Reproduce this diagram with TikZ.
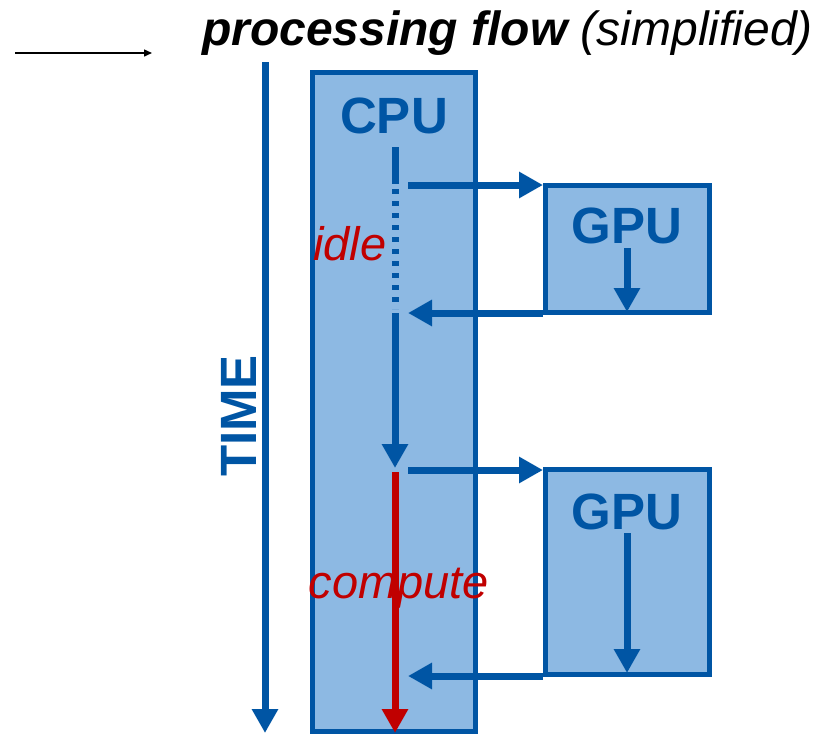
\documentclass[tikz,border=0pt]{standalone}
\usepackage{fontspec}
\setmainfont{Liberation Sans}
\usepackage{xcolor}
\usepackage{tikz}
\usetikzlibrary{arrows.meta}
\definecolor{flowblue}{HTML}{0055A4}
\definecolor{boxfill}{HTML}{8DB9E3}
\definecolor{flowred}{HTML}{C00000}

\begin{document}
\begin{tikzpicture}[
  x=1pt, y=-1pt,
  unitbox/.style={rectangle, draw=flowblue, fill=boxfill, line width=5pt, inner sep=0pt},
  unitlabel/.style={text=flowblue, font=\fontsize{51}{60}\selectfont\bfseries, inner sep=0pt, anchor=base},
  statelabel/.style={text=flowred, font=\fontsize{47}{56}\selectfont\itshape, inner sep=0pt},
  arr/.style={-{Triangle[length=24pt,width=25pt]}, line width=7pt, draw=flowblue},
  seg/.style={line width=7pt, draw=flowblue}
]
  \useasboundingbox (0,0) rectangle (815,734);

  \node[unitbox, minimum width=163pt, minimum height=659pt] (cpu)  at (394,402)   {};
  \node[unitbox, minimum width=164pt, minimum height=127pt] (gpu1) at (627.5,249) {};
  \node[unitbox, minimum width=164pt, minimum height=205pt] (gpu2) at (627.5,572) {};

  \node[unitlabel] (cpulbl)  at (394,133) {CPU};
  \node[unitlabel] (gpulbl1) at (627,243) {GPU};
  \node[unitlabel] (gpulbl2) at (627,529) {GPU};

  \node[anchor=base west, font=\fontsize{48}{56}\selectfont\itshape, inner sep=0pt] (title) at (202,45)
    {{\bfseries processing flow} (simplified)};
  \node[unitlabel, rotate=90] (time) at (256,416) {TIME};

  % time axis and legend arrow
  \coordinate (h0) at (15,53);
  \coordinate (h1) at (152,53);
  \coordinate (t0) at (265,62);
  \coordinate (t1) at (265,733);
  \draw[-{Triangle[length=8pt,width=7pt]}, line width=1.5pt] (h0) -- (h1);
  \draw[arr] (t0) -- (t1);

  % cpu timeline
  \coordinate (c0) at (395,147);
  \coordinate (c1) at (395,184);
  \coordinate (c2) at (395,189);
  \coordinate (c3) at (395,309);
  \coordinate (c4) at (395,313);
  \coordinate (c5) at (395,468);
  \coordinate (c6) at (395,472);
  \coordinate (c7) at (395,733);
  \draw[seg] (c0) -- (c1);
  \draw[seg, dash pattern=on 5pt off 7pt] (c2) -- (c3);
  \draw[arr] (c4) -- (c5);
  \draw[arr, draw=flowred, -{Triangle[length=24pt,width=25pt,fill=flowred]}] (c6) -- (c7);

  \node[statelabel] (idle) at (350,244) {idle};
  \node[statelabel, anchor=base] (comp) at (399,598) {compute};

  % calls to the gpu and back
  \coordinate (s1) at (408,185);
  \coordinate (r1) at (408,313);
  \coordinate (s2) at (408,470);
  \coordinate (r2) at (408,676);
  \draw[arr] (s1) -- (s1 -| gpu1.west);
  \draw[arr] (r1 -| gpu1.west) -- (r1);
  \draw[arr] (s2) -- (s2 -| gpu2.west);
  \draw[arr] (r2 -| gpu2.west) -- (r2);

  % gpu work
  \coordinate (k1) at (627,248);
  \coordinate (k1e) at (627,312);
  \coordinate (k2) at (627,533);
  \coordinate (k2e) at (627,673);
  \draw[arr] (k1) -- (k1e);
  \draw[arr] (k2) -- (k2e);
\end{tikzpicture}
\end{document}
